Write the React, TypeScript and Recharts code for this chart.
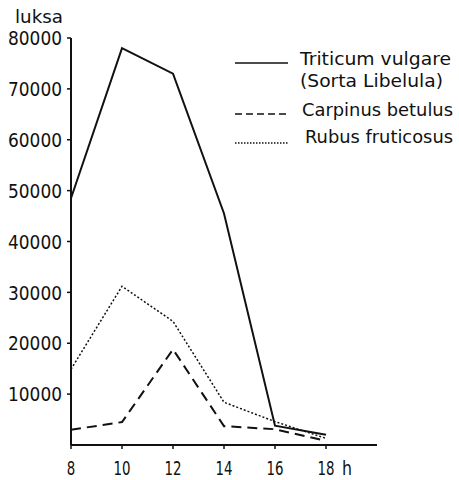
import React from 'react';
import { LineChart, Line, XAxis, YAxis } from 'recharts';

const hours = [8, 10, 12, 14, 16, 18];
const triticum = [48500, 78000, 73000, 45500, 3800, 2000];
const carpinus = [3000, 4500, 18800, 3700, 3100, 800];
const rubus = [14900, 31200, 24300, 8400, 4600, 1300];

const yTicks = [10000, 20000, 30000, 40000, 50000, 60000, 70000, 80000];

const FONT = '"DejaVu Sans", sans-serif';

const data = hours.map((h, i) => ({
  h,
  triticum: triticum[i],
  carpinus: carpinus[i],
  rubus: rubus[i],
}));

// the scan uses a narrow face, so squeeze the glyphs a bit
const narrow = (s: string) => s.length * 8.5;

const XTick = ({ x, y, payload }: any) => {
  const label = String(payload.value);
  return (
    <g>
      <text x={x} y={y + 12} dy="0.72em" textAnchor="middle" fontSize={20} fontFamily={FONT} fill="#111"
        textLength={narrow(label)} lengthAdjust="spacingAndGlyphs">
        {label}
      </text>
      {payload.value === 18 && (
        <text x={x + 16} y={y + 12} dy="0.72em" textAnchor="start" fontSize={20} fontFamily={FONT} fill="#111"
          textLength={10} lengthAdjust="spacingAndGlyphs">
          h
        </text>
      )}
    </g>
  );
};

const YTick = ({ x, y, payload }: any) => {
  const label = String(payload.value);
  return (
    <text x={x} y={y} dy="0.36em" textAnchor="end" fontSize={20} fontFamily={FONT} fill="#111"
      textLength={label.length * 10.8} lengthAdjust="spacingAndGlyphs">
      {label}
    </text>
  );
};

const Caption = ({ x, y, w, children }: any) => (
  <text x={x} y={y} fontSize={18} fontFamily={FONT} fill="#111" textLength={w} lengthAdjust="spacingAndGlyphs">
    {children}
  </text>
);

const LegendBox = () => (
  <svg width={459} height={160} style={{ position: 'absolute', left: 0, top: 0, pointerEvents: 'none' }}>
    <Caption x={15} y={23} w={48}>luksa</Caption>
    <line x1={235} x2={288} y1={63} y2={63} stroke="#111" strokeWidth={1.5} />
    <Caption x={300} y={65} w={151}>Triticum vulgare</Caption>
    <Caption x={300} y={87} w={143}>(Sorta Libelula)</Caption>
    <line x1={235} x2={288} y1={114} y2={114} stroke="#111" strokeWidth={1.5} strokeDasharray="7 4" />
    <Caption x={302} y={116} w={151}>Carpinus betulus</Caption>
    <line x1={235} x2={288} y1={143} y2={143} stroke="#111" strokeWidth={1.5} strokeDasharray="1.5 1.5" />
    <Caption x={305} y={143} w={148}>Rubus fruticosus</Caption>
  </svg>
);

export default function App() {
  return (
    <div style={{ position: 'absolute', left: 0, top: 0, width: 459, height: 480, background: '#fff' }}>
      <LineChart width={459} height={480} data={data} margin={{ top: 38, right: 82, bottom: 0, left: 0 }}>
        <XAxis
          dataKey="h"
          type="number"
          domain={[8, 20]}
          ticks={hours}
          height={35}
          tickSize={4}
          tickMargin={0}
          tick={<XTick />}
          axisLine={{ stroke: '#111', strokeWidth: 2 }}
          tickLine={{ stroke: '#111', strokeWidth: 1.5 }}
        />
        <YAxis
          type="number"
          domain={[0, 80000]}
          ticks={yTicks}
          width={71}
          tickSize={4}
          tickMargin={5}
          interval={0}
          tick={<YTick />}
          axisLine={{ stroke: '#111', strokeWidth: 2 }}
          tickLine={{ stroke: '#111', strokeWidth: 1.5 }}
        />
        <Line dataKey="triticum" name="Triticum vulgare (Sorta Libelula)" stroke="#111" strokeWidth={2} dot={false} isAnimationActive={false} />
        <Line dataKey="carpinus" name="Carpinus betulus" stroke="#111" strokeWidth={2} strokeDasharray="10 6" dot={false} isAnimationActive={false} />
        <Line dataKey="rubus" name="Rubus fruticosus" stroke="#111" strokeWidth={1.5} strokeDasharray="2 2" dot={false} isAnimationActive={false} />
      </LineChart>
      <LegendBox />
    </div>
  );
}
